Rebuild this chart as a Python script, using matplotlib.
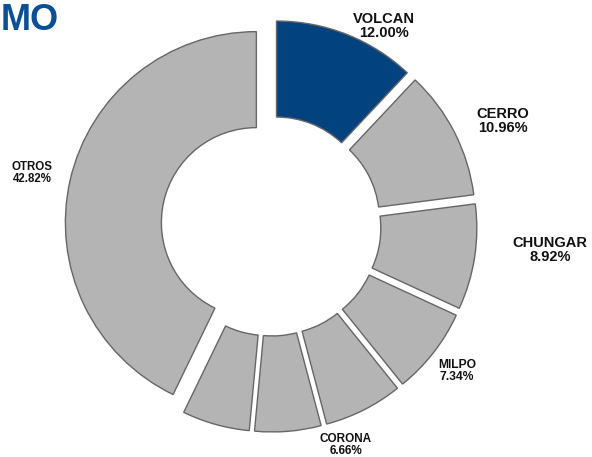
import matplotlib
matplotlib.use("Agg")
import matplotlib.pyplot as plt

# ---- data ----
companies = ["VOLCAN", "CERRO", "CHUNGAR", "MILPO", "CORONA", "", "", "OTROS"]
shares = [12.00, 10.96, 8.92, 7.34, 6.66, 5.60, 5.70, 42.82]
title_text = "MO"

# ---- style / layout ----
W, H = 592, 457
colors = ["#02427f"] + ["#b4b4b4"] * 7
label_pos = {  # image coords (x, y from top)
    "VOLCAN": (384, 26, 10.5),
    "CERRO": (503, 121, 10.5),
    "CHUNGAR": (550, 250, 10.5),
    "MILPO": (457, 371, 8.7),
    "CORONA": (346, 445, 8.5),
    "OTROS": (32, 173, 8.3),
}

fig = plt.figure(figsize=(W / 100, H / 100), dpi=100)
ax = fig.add_axes([0, 0, 1, 1])

ax.pie(shares, colors=colors, startangle=90, counterclock=False,
       radius=191, center=(271, H - 226), explode=[15] * len(shares),
       wedgeprops=dict(width=96, edgecolor="#666666", linewidth=1.0))

ax.set_xlim(0, W)
ax.set_ylim(0, H)
ax.set_aspect("equal")
ax.axis("off")

for name, val in zip(companies, shares):
    if not name:
        continue
    x, y, fs = label_pos[name]
    ax.text(x, H - y, f"{name}\n{val:.2f}%", ha="center", va="center",
            fontsize=fs, fontweight="bold", family="Liberation Sans",
            color="#111111", linespacing=1.05)

ax.text(1, H - 21, title_text, ha="left", va="center", fontsize=26,
        fontweight="bold", family="Liberation Sans", color="#0b4f94")

fig.savefig("out.png", dpi=100)
